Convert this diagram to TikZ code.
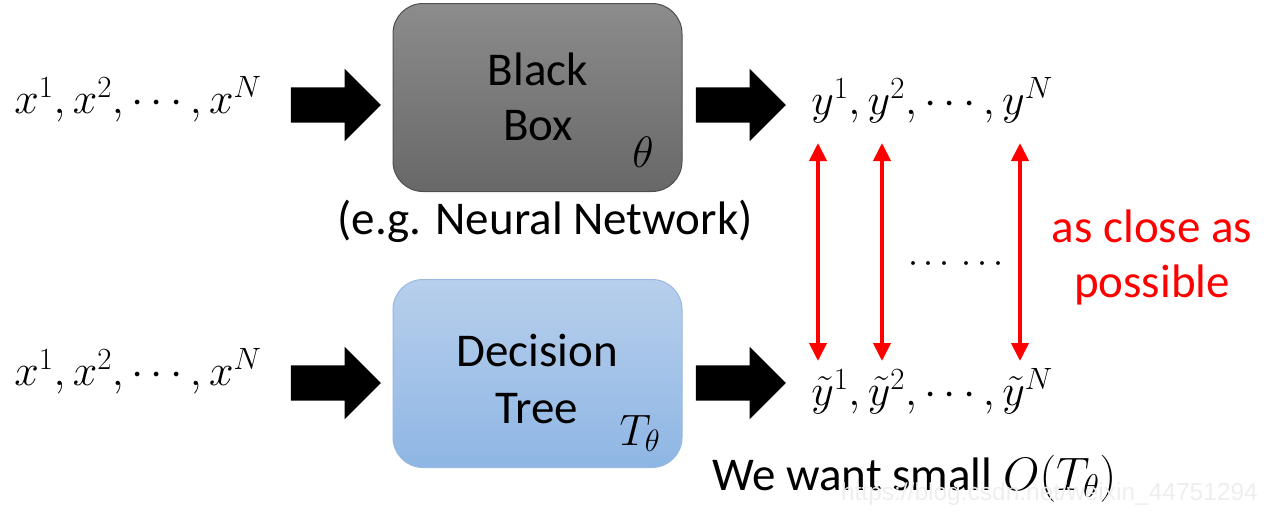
\RequirePackage{fix-cm}
\documentclass[tikz,border=0pt]{standalone}
\usepackage{fontspec}
\setmainfont{Carlito}
\newfontfamily\wmfont{Liberation Sans}
\usetikzlibrary{arrows.meta,shapes.arrows}
\definecolor{boxgraytop}{RGB}{140,140,140}
\definecolor{boxgraybot}{RGB}{104,104,104}
\definecolor{boxgrayedge}{RGB}{80,80,80}
\definecolor{boxbluetop}{RGB}{184,207,236}
\definecolor{boxbluebot}{RGB}{142,182,228}
\definecolor{boxblueedge}{RGB}{150,185,225}
\definecolor{wmgray}{RGB}{238,238,238}
\tikzset{
  bigtext/.style={font=\fontsize{47}{55}\selectfont, inner sep=0pt, align=center},
  mathtext/.style={font=\fontsize{44}{50}\selectfont, inner sep=0pt, anchor=base},
  blockarrow/.style={single arrow, fill=black, draw=none, inner xsep=0pt, inner ysep=17.5pt,
    minimum height=90pt, single arrow head extend=18.5pt,
    single arrow head indent=0pt},
  gbox/.style={draw=boxgrayedge, line width=1pt, rounded corners=30pt,
    minimum width=289pt, minimum height=188pt, top color=boxgraytop, bottom color=boxgraybot},
  bbox/.style={draw=boxblueedge, line width=1pt, rounded corners=30pt,
    minimum width=289pt, minimum height=188pt, top color=boxbluetop, bottom color=boxbluebot},
  redarrow/.style={red, line width=4pt, {Triangle[width=17pt,length=18pt]}-{Triangle[width=17pt,length=18pt]}},
}
\begin{document}
\begin{tikzpicture}[x=1pt,y=-1pt]
\useasboundingbox (0,0) rectangle (1270,520);
% top row
\node[mathtext] (xin1) at (138,113) {$x^1,x^2,\cdots,x^N$};
\node[blockarrow] (a1) at (327,105) {};
\node[gbox] (bb) at (537.5,97.5) {};
\node[bigtext, anchor=base] (bbl1) at (538,85) {Black};
\node[bigtext, anchor=base] (bbl2) at (538,140) {Box};
\node[mathtext] (theta) at (643,167) {$\theta$};
\node[bigtext] (eg) at (545,221) {(e.g. Neural Network)};
\node[blockarrow] (a2) at (732,105) {};
\node[mathtext] (yout) at (932,114) {$y^1,y^2,\cdots,y^N$};
% bottom row
\node[mathtext] (xin2) at (138,385) {$x^1,x^2,\cdots,x^N$};
\node[blockarrow] (a3) at (327,383) {};
\node[bbox] (dt) at (537.5,373.5) {};
\node[bigtext, anchor=base] (dtl1) at (537,366) {Decision};
\node[bigtext, anchor=base] (dtl2) at (537,423) {Tree};
\node[mathtext] (ttheta) at (640,445) {$T_\theta$};
\node[blockarrow] (a4) at (732,383) {};
\node[mathtext] (ytout) at (932,405) {$\tilde y^1,\tilde y^2,\cdots,\tilde y^N$};
% red arrows
\coordinate (t1) at (818,143); \coordinate (b1) at (818,361);
\coordinate (t2) at (882,143); \coordinate (b2) at (882,361);
\coordinate (t3) at (1020,143); \coordinate (b3) at (1020,361);
\draw[redarrow] (t1) -- (b1);
\draw[redarrow] (t2) -- (b2);
\draw[redarrow] (t3) -- (b3);
\node[mathtext, font=\fontsize{36}{40}\selectfont] (dots) at (956,272) {$\cdots\,\cdots$};
\node[bigtext, text=red] (close) at (1152,257) {as close as\\possible};
\node[bigtext, anchor=base west] (want) at (712,490) {We want small $O(T_\theta)$};
\node[font=\wmfont\fontsize{24.5}{26}\selectfont, text=wmgray, inner sep=0pt, anchor=base east] (wm) at (1258,500) {https://blog.csdn.net/weixin\_44751294};
\end{tikzpicture}
\end{document}
